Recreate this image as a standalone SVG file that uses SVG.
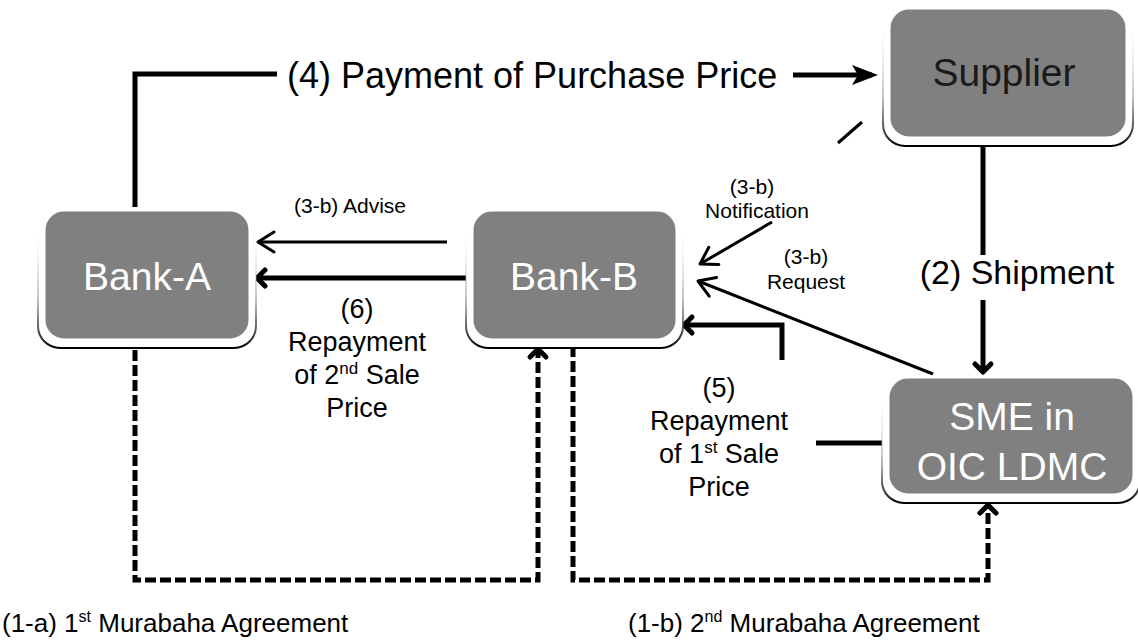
<svg xmlns="http://www.w3.org/2000/svg" width="1138" height="644" viewBox="0 0 1138 644">
<style>
  .box { fill: #808080; stroke: #ffffff; stroke-width: 3; }
  .shadow { fill: #ffffff; stroke: url(#shGrad); stroke-width: 2; }
  .nodeText { font-family: "Liberation Sans", Arial, sans-serif; font-size: 39px; fill: #ffffff; text-anchor: middle; }
  .dark { fill: #1a1a1a; }
  .lbl { font-family: "Liberation Sans", Arial, sans-serif; fill: #000000; }
  .mid { text-anchor: middle; }
  .thick { fill: none; stroke: #000; stroke-width: 5; }
  .thin { fill: none; stroke: #000; stroke-width: 3; }
  .dash { fill: none; stroke: #000; stroke-width: 5; stroke-dasharray: 11 4; }
</style>
<defs>
  <linearGradient id="shGrad" x1="0" y1="0" x2="0" y2="1">
    <stop offset="0" stop-color="#ffffff" stop-opacity="0"/>
    <stop offset="0.6" stop-color="#888888" stop-opacity="0.5"/>
    <stop offset="1" stop-color="#000000"/>
  </linearGradient>
  <marker id="bigArrow" markerUnits="userSpaceOnUse" viewBox="0 0 30 24" markerWidth="30" markerHeight="24" refX="20" refY="12" orient="auto">
    <path d="M0,2 L26,12 L0,22 L6,12 Z" fill="#000"/>
  </marker>
  <marker id="chevThick" markerUnits="userSpaceOnUse" viewBox="0 0 20 24" markerWidth="20" markerHeight="24" refX="14" refY="12" orient="auto">
    <path d="M6,4 L14,12 L6,20" fill="none" stroke="#000" stroke-width="5" stroke-linecap="round" stroke-linejoin="round"/>
  </marker>
  <marker id="chevThin" markerUnits="userSpaceOnUse" viewBox="0 0 22 24" markerWidth="22" markerHeight="24" refX="19" refY="12" orient="auto">
    <path d="M3,2 L19,12 L3,22" fill="none" stroke="#000" stroke-width="3" stroke-linecap="round" stroke-linejoin="round"/>
  </marker>
</defs>
<rect width="1138" height="644" fill="#ffffff"/>

<g id="connectors">
  <!-- (4) Payment of Purchase Price -->
  <path class="thick" d="M135,207 V74 H277"/>
  <path class="thick" d="M793,75 H872" marker-end="url(#bigArrow)"/>
  <!-- (2) Shipment -->
  <path class="thick" d="M983,146 V255"/>
  <path class="thick" d="M983,300 V372" marker-end="url(#chevThick)"/>
  <!-- (3-b) Advise -->
  <path class="thin" d="M447,242 H258" marker-end="url(#chevThin)"/>
  <!-- (6) -->
  <path class="thick" d="M467,278 H257" marker-end="url(#chevThick)"/>
  <!-- (3-b) Notification -->
  <path class="thin" d="M862,122 L838,143"/>
  <path class="thin" d="M772,222 L700,264" marker-end="url(#chevThin)"/>
  <!-- (3-b) Request -->
  <path class="thin" d="M933,374 L698,281" marker-end="url(#chevThin)"/>
  <!-- (5) -->
  <path class="thick" d="M886,443 H816"/>
  <path class="thick" d="M782,360 V325 H684" marker-end="url(#chevThick)"/>
  <!-- (1-a) -->
  <path class="dash" d="M135,350 V580 H538 V349" marker-end="url(#chevThick)"/>
  <!-- (1-b) -->
  <path class="dash" d="M573,346 V580 H988 V505" marker-end="url(#chevThick)"/>
</g>

<g id="node-supplier">
  <rect class="shadow" x="883" y="20" width="250" height="126" rx="22"/>
  <rect class="box" x="889" y="8" width="238" height="130" rx="20"/>
  <text class="nodeText dark" x="1004" y="86">Supplier</text>
</g>
<g id="node-bank-a">
  <rect class="shadow" x="38" y="222" width="218" height="126" rx="22"/>
  <rect class="box" x="44" y="210" width="206" height="130" rx="20"/>
  <text class="nodeText" x="147" y="290">Bank-A</text>
</g>
<g id="node-bank-b">
  <rect class="shadow" x="466" y="222" width="217" height="126" rx="22"/>
  <rect class="box" x="472" y="210" width="205" height="130" rx="20"/>
  <text class="nodeText" x="574" y="290">Bank-B</text>
</g>
<g id="node-sme">
  <rect class="shadow" x="882" y="389" width="258" height="114" rx="22"/>
  <rect class="box" x="888" y="377" width="246" height="118" rx="20"/>
  <text class="nodeText" x="1012" y="430">SME in</text>
  <text class="nodeText" x="1012" y="480">OIC LDMC</text>
</g>

<g id="labels">
  <text class="lbl" x="287" y="88" font-size="36">(4) Payment of Purchase Price</text>
  <text class="lbl mid" x="1017" y="284" font-size="34">(2) Shipment</text>
  <text class="lbl mid" x="350" y="213" font-size="21">(3-b) Advise</text>
  <text class="lbl mid" x="752" y="194" font-size="21">(3-b)</text>
  <text class="lbl mid" x="757" y="218" font-size="21">Notification</text>
  <text class="lbl mid" x="806" y="264" font-size="21">(3-b)</text>
  <text class="lbl mid" x="806" y="289" font-size="21">Request</text>
  <text class="lbl mid" x="357" y="318" font-size="27">(6)</text>
  <text class="lbl mid" x="357" y="351" font-size="27">Repayment</text>
  <text class="lbl mid" x="357" y="384" font-size="27">of 2<tspan font-size="17" dy="-10">nd</tspan><tspan dy="10"> Sale</tspan></text>
  <text class="lbl mid" x="357" y="417" font-size="27">Price</text>
  <text class="lbl mid" x="719" y="397" font-size="27">(5)</text>
  <text class="lbl mid" x="719" y="430" font-size="27">Repayment</text>
  <text class="lbl mid" x="719" y="463" font-size="27">of 1<tspan font-size="17" dy="-10">st</tspan><tspan dy="10"> Sale</tspan></text>
  <text class="lbl mid" x="719" y="496" font-size="27">Price</text>
  <text class="lbl" x="2" y="632" font-size="26">(1-a) 1<tspan font-size="16" dy="-10">st</tspan><tspan dy="10"> Murabaha Agreement</tspan></text>
  <text class="lbl" x="628" y="632" font-size="26">(1-b) 2<tspan font-size="16" dy="-10">nd</tspan><tspan dy="10"> Murabaha Agreement</tspan></text>
</g>
</svg>
